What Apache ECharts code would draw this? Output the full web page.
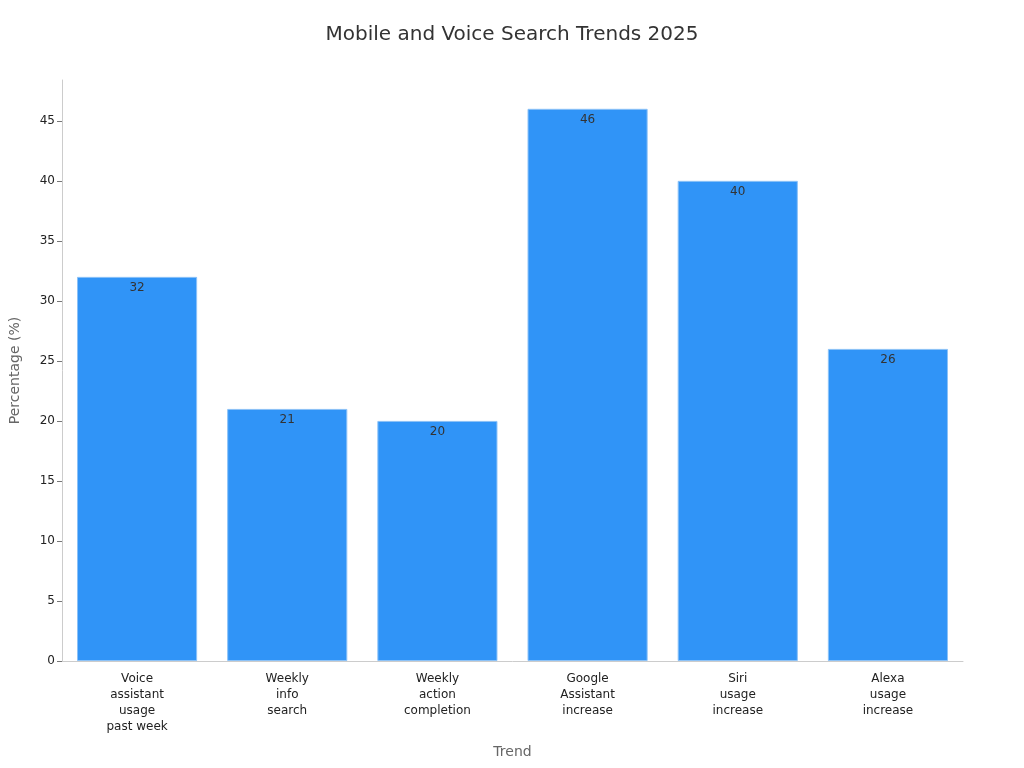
<!DOCTYPE html>
<html>
<head>
<meta charset="utf-8">
<script src="https://cdn.jsdelivr.net/npm/echarts@6/dist/echarts.min.js"></script>
<style>
  html, body { margin: 0; padding: 0; background: #fff; }
  #chart { width: 1024px; height: 768px; }
</style>
</head>
<body>
<div id="chart"></div>
<script>
var categories = [
  'Voice\nassistant\nusage\npast week',
  'Weekly\ninfo\nsearch',
  'Weekly\naction\ncompletion',
  'Google\nAssistant\nincrease',
  'Siri\nusage\nincrease',
  'Alexa\nusage\nincrease'
];
var values = [32, 21, 20, 46, 40, 26];
var yTicks = [0, 5, 10, 15, 20, 25, 30, 35, 40, 45];

var myChart = echarts.init(document.getElementById('chart'));
myChart.setOption({
  textStyle: { fontFamily: 'DejaVu Sans' },
  title: {
    text: 'Mobile and Voice Search Trends 2025',
    left: 'center',
    top: 20,
    textStyle: { fontSize: 20, fontWeight: 'normal', color: '#333', fontFamily: 'DejaVu Sans' }
  },
  grid: { left: 59, right: 61, top: 80, bottom: 107 },
  xAxis: {
    type: 'category',
    data: categories,
    name: 'Trend',
    nameLocation: 'middle',
    nameGap: 84,
    nameTextStyle: { fontSize: 14, color: '#666' },
    axisLine: { lineStyle: { color: '#ccc' } },
    axisTick: { alignWithLabel: true, length: 5, lineStyle: { color: '#777' } },
    axisLabel: { color: '#222', fontSize: 12, lineHeight: 16, margin: 10, interval: 0 }
  },
  yAxis: {
    type: 'value',
    min: 0,
    max: 48.4,
    name: 'Percentage (%)',
    nameLocation: 'middle',
    nameGap: 40,
    nameTextStyle: { fontSize: 14, color: '#666' },
    axisLine: { show: true, lineStyle: { color: '#ccc' } },
    axisTick: { show: true, length: 5, customValues: yTicks, lineStyle: { color: '#777' } },
    axisLabel: { color: '#222', fontSize: 12, margin: 7, customValues: yTicks },
    splitLine: { show: false }
  },
  series: [{
    type: 'bar',
    data: values,
    barCategoryGap: '20%',
    itemStyle: { color: '#3094f7', borderColor: '#8cc2f7', borderWidth: 1 },
    label: {
      show: true,
      position: 'insideTop',
      distance: 5,
      color: '#333',
      fontSize: 12
    }
  }]
});
</script>
</body>
</html>
